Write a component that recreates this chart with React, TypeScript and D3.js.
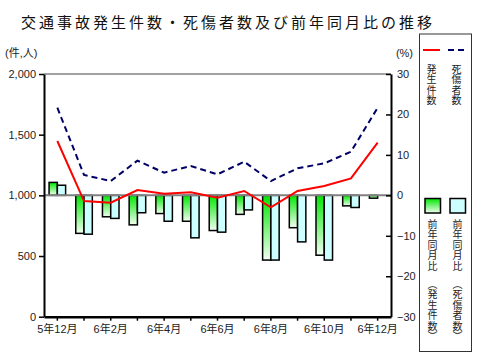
import { useEffect, useRef } from "react"
import * as d3 from "d3"

const months = ["5年12月", "6年1月", "6年2月", "6年3月", "6年4月", "6年5月", "6年6月", "6年7月", "6年8月", "6年9月", "6年10月", "6年11月", "6年12月"]
const accidents = [1448, 953, 940, 1044, 1014, 1025, 981, 1036, 902, 1036, 1077, 1140, 1434]
const casualties = [1722, 1168, 1118, 1286, 1187, 1242, 1173, 1277, 1118, 1223, 1264, 1360, 1722]
const accidentsYoY = [3.2, -9.4, -5.3, -7.3, -4.5, -6.4, -8.7, -4.7, -16.0, -8.0, -14.8, -2.6, -0.7]
const casualtiesYoY = [2.5, -9.6, -5.7, -4.3, -6.4, -10.5, -9.1, -3.6, -16.0, -11.5, -16.0, -3.0, 0]
const leftTicks = [0, 500, 1000, 1500, 2000]
const rightTicks = [-30, -20, -10, 0, 10, 20, 30]

const FONT = "'Liberation Sans', 'Noto Sans CJK JP', sans-serif"

function Chart() {
  const ref = useRef(null)

  useEffect(() => {
    const width = 480, height = 360
    const marginLeft = 44, marginRight = 89, marginTop = 74, marginBottom = 43.3

    const svg = d3.select(ref.current)
    svg.selectAll("*").remove()

    const x = d3.scaleBand().domain(months).range([marginLeft, width - marginRight])
    const yL = d3.scaleLinear().domain([0, 2000]).range([height - marginBottom, marginTop])
    const yR = d3.scaleLinear().domain([-30, 30]).range([height - marginBottom, marginTop])
    const bw = x.bandwidth() * 0.31
    const cx = d => x(d) + x.bandwidth() / 2

    const defs = svg.append("defs")
    const grad = defs.append("linearGradient")
      .attr("id", "greenGrad")
      .attr("x1", 0).attr("y1", 0).attr("x2", 0).attr("y2", 1)
    grad.append("stop").attr("offset", "0%").attr("stop-color", "#00e600")
    grad.append("stop").attr("offset", "100%").attr("stop-color", "#f2fff2")

    // title
    svg.append("text")
      .attr("x", 21)
      .attr("y", 28)
      .attr("font-family", FONT)
      .attr("font-size", 15)
      .attr("letter-spacing", 3)
      .attr("fill", "#111")
      .text("交通事故発生件数・死傷者数及び前年同月比の推移")

    svg.append("text")
      .attr("x", 5).attr("y", 57)
      .attr("font-family", FONT).attr("font-size", 11).attr("fill", "#222")
      .text("(件,人)")
    svg.append("text")
      .attr("x", 413).attr("y", 57)
      .attr("text-anchor", "end")
      .attr("font-family", FONT).attr("font-size", 11).attr("fill", "#222")
      .text("(%)")

    // top border
    svg.append("line")
      .attr("x1", marginLeft).attr("x2", width - marginRight)
      .attr("y1", marginTop).attr("y2", marginTop)
      .attr("stroke", "#444").attr("stroke-width", 1)

    // bars
    svg.append("g")
      .selectAll("rect")
      .data(months)
      .join("rect")
      .attr("x", (d) => cx(d) - bw)
      .attr("y", (d, i) => Math.min(yR(accidentsYoY[i]), yR(0)))
      .attr("width", bw)
      .attr("height", (d, i) => Math.abs(yR(accidentsYoY[i]) - yR(0)))
      .attr("fill", "url(#greenGrad)")
      .attr("stroke", "#000")
      .attr("stroke-width", 1.5)

    svg.append("g")
      .selectAll("rect")
      .data(months)
      .join("rect")
      .attr("x", (d) => cx(d))
      .attr("y", (d, i) => Math.min(yR(casualtiesYoY[i]), yR(0)))
      .attr("width", bw)
      .attr("height", (d, i) => Math.abs(yR(casualtiesYoY[i]) - yR(0)))
      .attr("fill", "#ccffff")
      .attr("stroke", "#000")
      .attr("stroke-width", 1.5)

    // zero line
    svg.append("line")
      .attr("x1", marginLeft).attr("x2", width - marginRight)
      .attr("y1", yR(0)).attr("y2", yR(0))
      .attr("stroke", "#808080").attr("stroke-width", 2)

    // lines
    const lineL = d3.line().x((d, i) => cx(months[i])).y(d => yL(d))
    svg.append("path")
      .attr("d", lineL(casualties))
      .attr("fill", "none")
      .attr("stroke", "#000066")
      .attr("stroke-width", 2)
      .attr("stroke-dasharray", "6,4")
    svg.append("path")
      .attr("d", lineL(accidents))
      .attr("fill", "none")
      .attr("stroke", "#ff0000")
      .attr("stroke-width", 2)

    // axes
    svg.append("g")
      .attr("transform", `translate(${marginLeft},0)`)
      .call(d3.axisLeft(yL).tickValues(leftTicks).tickFormat(d3.format(",")).tickSize(5).tickSizeOuter(0).tickPadding(3))
      .call(g => g.select(".domain").attr("stroke-width", 2))
      .call(g => g.selectAll(".tick line").attr("stroke-width", 1.5))
      .call(g => g.selectAll("text").attr("font-family", FONT).attr("font-size", 11).attr("fill", "#222"))

    svg.append("g")
      .attr("transform", `translate(${width - marginRight},0)`)
      .call(d3.axisRight(yR).tickValues(rightTicks).tickSize(-5).tickSizeOuter(0).tickPadding(6))
      .call(g => g.select(".domain").attr("stroke-width", 2))
      .call(g => g.selectAll(".tick line").attr("stroke-width", 1.5))
      .call(g => g.selectAll("text").attr("font-family", FONT).attr("font-size", 11).attr("fill", "#222"))

    svg.append("g")
      .attr("transform", `translate(0,${height - marginBottom})`)
      .call(d3.axisBottom(x).tickSize(4).tickSizeOuter(0).tickPadding(5)
        .tickFormat((d, i) => i % 2 === 0 ? d : ""))
      .call(g => g.select(".domain").attr("stroke-width", 2.5))
      .call(g => g.selectAll(".tick line").attr("stroke-width", 1.5))
      .call(g => g.selectAll("text").attr("font-family", FONT).attr("font-size", 11).attr("fill", "#222"))

    // legend
    svg.append("rect")
      .attr("x", 419.5).attr("y", 34)
      .attr("width", 52).attr("height", 317.5)
      .attr("fill", "none").attr("stroke", "#333").attr("stroke-width", 1)

    svg.append("line")
      .attr("x1", 423).attr("x2", 440).attr("y1", 50).attr("y2", 50)
      .attr("stroke", "#ff0000").attr("stroke-width", 2)
    svg.append("line")
      .attr("x1", 448).attr("x2", 466).attr("y1", 50).attr("y2", 50)
      .attr("stroke", "#000066").attr("stroke-width", 2).attr("stroke-dasharray", "6,4")

    svg.append("rect")
      .attr("x", 425).attr("y", 198.5).attr("width", 15.5).attr("height", 14.5)
      .attr("fill", "url(#greenGrad)").attr("stroke", "#000").attr("stroke-width", 1.5)
    svg.append("rect")
      .attr("x", 450).attr("y", 198.5).attr("width", 15.5).attr("height", 14.5)
      .attr("fill", "#ccffff").attr("stroke", "#000").attr("stroke-width", 1.5)

    // vertical legend labels, one character per text, stacked downwards
    const vText = (chars, xPos, yTop, pitch) => {
      svg.append("g")
        .attr("font-family", "'Noto Sans CJK JP', sans-serif")
        .attr("font-size", 10)
        .attr("fill", "#222")
        .selectAll("text")
        .data(chars)
        .join("text")
        .attr("writing-mode", "vertical-rl")
        .attr("x", xPos)
        .attr("y", (d, i) => yTop + i * pitch)
        .text(d => d)
    }
    vText(["発", "生", "件", "数"], 431.5, 64, 10.5)
    vText(["死", "傷", "者", "数"], 456.5, 64, 10.5)
    vText(["前", "年", "同", "月", "比"], 432.5, 219, 10.5)
    vText(["前", "年", "同", "月", "比"], 457.5, 219, 10.5)
    vText(["（", "発", "生", "件", "数", "）"], 432.5, 279, 10.5)
    vText(["（", "死", "傷", "者", "数", "）"], 457.5, 279, 10.5)
  }, [])

  return <svg ref={ref} width={480} height={360} style={{ position: "absolute", left: 0, top: 0, background: "#fff" }} />
}

export default function App() {
  return <Chart />
}
